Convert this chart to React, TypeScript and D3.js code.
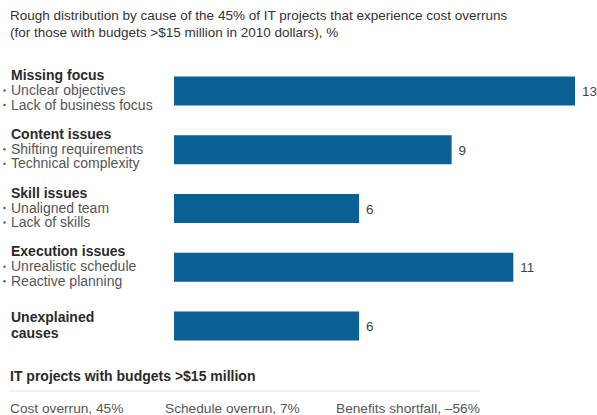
import React from "react";
import * as d3 from "d3";

const categories = ["Missing focus", "Content issues", "Skill issues", "Execution issues", "Unexplained causes"];
const headerLines = [["Missing focus"], ["Content issues"], ["Skill issues"], ["Execution issues"], ["Unexplained", "causes"]];
const bullets = [
  ["Unclear objectives", "Lack of business focus"],
  ["Shifting requirements", "Technical complexity"],
  ["Unaligned team", "Lack of skills"],
  ["Unrealistic schedule", "Reactive planning"],
  [],
];
const values = [13, 9, 6, 11, 6];
const titleLines = [
  "Rough distribution by cause of the 45% of IT projects that experience cost overruns",
  "(for those with budgets >$15 million in 2010 dollars), %",
];
const footerTitle = "IT projects with budgets >$15 million";
const footerItems = ["Cost overrun, 45%", "Schedule overrun, 7%", "Benefits shortfall, \u201356%"];

const W = 597;
const H = 415;
const FONT = "'Liberation Sans', Arial, Helvetica, sans-serif";

export default function App() {
  const x = d3.scaleLinear().domain([0, 13]).range([174, 575]);
  const y = d3.scalePoint<string>().domain(categories).range([91, 326]);
  const barH = 29;
  const footerX = [10, 165, 336];

  return (
    <svg width={W} height={H} style={{ position: "absolute", left: 0, top: 0, background: "#fff" }} fontFamily={FONT}>
      {titleLines.map((t, i) => (
        <text key={i} x={10} y={20 + i * 17} fontSize={13.5} fill="#333">{t}</text>
      ))}
      {categories.map((c, i) => {
        const cy = y(c)!;
        const hasBullets = bullets[i].length > 0;
        const headY = hasBullets ? cy - 11 : cy - 4;
        return (
          <g key={c}>
            {headerLines[i].map((h, j) => (
              <text key={j} x={11} y={headY + j * 16} fontSize={14} fontWeight="bold" fill="#2a2a2a">{h}</text>
            ))}
            {bullets[i].map((b, j) => (
              <g key={j}>
                <circle cx={4.5} cy={cy - 0.5 + j * 14.5} r={1.3} fill="#666" />
                <text x={11} y={cy + 4 + j * 14.5} fontSize={14} fill="#555">{b}</text>
              </g>
            ))}
            <rect x={x(0)} y={cy - barH / 2} width={x(values[i]) - x(0)} height={barH} fill="#0a5f95" />
            <text x={x(values[i]) + 7} y={cy + 5} fontSize={13.5} fill="#444">{values[i]}</text>
          </g>
        );
      })}
      <text x={10} y={381} fontSize={14} fontWeight="bold" fill="#2a2a2a">{footerTitle}</text>
      <line x1={10} x2={480} y1={391} y2={391} stroke="#e6e6e6" strokeWidth={1} />
      {footerItems.map((f, i) => (
        <text key={i} x={footerX[i]} y={413} fontSize={13.7} fill="#555">{f}</text>
      ))}
    </svg>
  );
}
